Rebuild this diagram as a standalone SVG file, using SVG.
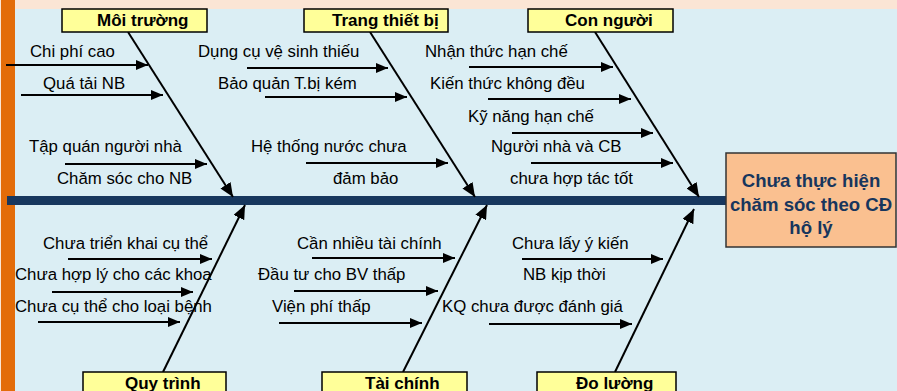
<svg xmlns="http://www.w3.org/2000/svg" width="897" height="391" viewBox="0 0 897 391">
  <defs>
    <marker id="head" markerUnits="userSpaceOnUse" markerWidth="14" markerHeight="12" refX="14" refY="6" orient="auto">
      <path d="M0,0 L14,6 L0,12 z" fill="#000"/>
    </marker>
    <marker id="headSmall" markerUnits="userSpaceOnUse" markerWidth="12" markerHeight="10" refX="12" refY="5" orient="auto">
      <path d="M0,0 L12,5 L0,10 z" fill="#000"/>
    </marker>
  </defs>
  <style>
    .cat rect { fill: #ffff99; stroke: #000; stroke-width: 1.5; }
    .cat text { font-family: "Liberation Sans", Arial, sans-serif; font-size: 17px; font-weight: bold; fill: #000; }
    .cause { font-family: "Liberation Sans", Arial, sans-serif; font-size: 16.8px; fill: #000; }
    .bone { stroke: #000; stroke-width: 2; marker-end: url(#head); }
    .sub { stroke: #000; stroke-width: 2; marker-end: url(#headSmall); }
    .effect text { font-family: "Liberation Sans", Arial, sans-serif; font-size: 18.6px; font-weight: bold; fill: #17365d; text-anchor: middle; }
  </style>

  <!-- backdrop -->
  <rect x="0" y="0" width="897" height="391" fill="#fbe5d5"/>
  <rect x="15" y="9" width="882" height="382" fill="#dbeef4"/>
  <rect x="1" y="0" width="14" height="391" fill="#e36c09"/>

  <!-- spine -->
  <rect id="spine" x="7" y="196" width="720" height="9" fill="#17375e"/>

  <!-- effect -->
  <g id="effect" class="effect">
    <rect x="726" y="153" width="170" height="94" fill="#fac090" stroke="#333" stroke-width="1.5"/>
    <text x="811" y="187">Chưa thực hiện</text>
    <text x="811" y="211">chăm sóc theo CĐ</text>
    <text x="811" y="234">hộ lý</text>
  </g>

  <!-- connectors: main bones and sub-cause arrows -->
  <g id="connectors">
    <line class="bone" x1="128" y1="32" x2="233" y2="197"/>
    <line class="bone" x1="370" y1="32" x2="475" y2="197"/>
    <line class="bone" x1="595" y1="32" x2="699" y2="197"/>
    <line class="bone" x1="163" y1="372" x2="245" y2="205"/>
    <line class="bone" x1="403" y1="372" x2="487" y2="205"/>
    <line class="bone" x1="615" y1="372" x2="694" y2="209"/>

    <line class="sub" x1="6" y1="65" x2="148" y2="65"/>
    <line class="sub" x1="21" y1="95" x2="163" y2="95"/>
    <line class="sub" x1="65" y1="164" x2="207" y2="164"/>

    <line class="sub" x1="247" y1="68" x2="388" y2="68"/>
    <line class="sub" x1="265" y1="97" x2="407" y2="97"/>
    <line class="sub" x1="306" y1="163" x2="448" y2="163"/>

    <line class="sub" x1="469" y1="67" x2="613" y2="67"/>
    <line class="sub" x1="488" y1="99" x2="631" y2="99"/>
    <line class="sub" x1="512" y1="133" x2="653" y2="133"/>
    <line class="sub" x1="531" y1="163" x2="673" y2="163"/>

    <line class="sub" x1="68" y1="259" x2="212" y2="259"/>
    <line class="sub" x1="52" y1="292" x2="193" y2="292"/>
    <line class="sub" x1="38" y1="322" x2="180" y2="322"/>

    <line class="sub" x1="312" y1="258" x2="455" y2="258"/>
    <line class="sub" x1="294" y1="291" x2="438" y2="291"/>
    <line class="sub" x1="279" y1="323" x2="422" y2="323"/>

    <line class="sub" x1="522" y1="259" x2="663" y2="259"/>
    <line class="sub" x1="489" y1="324" x2="632" y2="324"/>
  </g>

  <!-- category: Môi trường -->
  <g id="moi-truong">
    <g class="cat">
      <rect x="62" y="9" width="145" height="23"/>
      <text x="97" y="26">Môi trường</text>
    </g>
    <text class="cause" x="30" y="57">Chi phí cao</text>
    <text class="cause" x="43" y="89">Quá tải NB</text>
    <text class="cause" x="29" y="152">Tập quán người nhà</text>
    <text class="cause" x="57" y="184">Chăm sóc cho NB</text>
  </g>

  <!-- category: Trang thiết bị -->
  <g id="trang-thiet-bi">
    <g class="cat">
      <rect x="304" y="9" width="144" height="23"/>
      <text x="332" y="26">Trang thiết bị</text>
    </g>
    <text class="cause" x="198" y="57">Dụng cụ vệ sinh thiếu</text>
    <text class="cause" x="218" y="89">Bảo quản T.bị kém</text>
    <text class="cause" x="251" y="152">Hệ thống nước chưa</text>
    <text class="cause" x="333" y="184">đảm bảo</text>
  </g>

  <!-- category: Con người -->
  <g id="con-nguoi">
    <g class="cat">
      <rect x="528" y="9" width="145" height="23"/>
      <text x="565" y="26">Con người</text>
    </g>
    <text class="cause" x="425" y="57">Nhận thức hạn chế</text>
    <text class="cause" x="430" y="89">Kiến thức không đều</text>
    <text class="cause" x="468" y="122">Kỹ năng hạn chế</text>
    <text class="cause" x="491" y="152">Người nhà và CB</text>
    <text class="cause" x="510" y="184">chưa hợp tác tốt</text>
  </g>

  <!-- category: Quy trình -->
  <g id="quy-trinh">
    <g class="cat">
      <rect x="83" y="372" width="143" height="26"/>
      <text x="125" y="389">Quy trình</text>
    </g>
    <text class="cause" x="43" y="249">Chưa triển khai cụ thể</text>
    <text class="cause" x="15" y="280">Chưa hợp lý cho các khoa</text>
    <text class="cause" x="15" y="312">Chưa cụ thể cho loại bệnh</text>
  </g>

  <!-- category: Tài chính -->
  <g id="tai-chinh">
    <g class="cat">
      <rect x="322" y="372" width="145" height="26"/>
      <text x="365" y="389">Tài chính</text>
    </g>
    <text class="cause" x="297" y="249">Cần nhiều tài chính</text>
    <text class="cause" x="258" y="280">Đầu tư cho BV thấp</text>
    <text class="cause" x="272" y="312">Viện phí thấp</text>
  </g>

  <!-- category: Đo lường -->
  <g id="do-luong">
    <g class="cat">
      <rect x="537" y="372" width="139" height="26"/>
      <text x="576" y="389">Đo lường</text>
    </g>
    <text class="cause" x="512" y="249">Chưa lấy ý kiến</text>
    <text class="cause" x="523" y="280">NB kịp thời</text>
    <text class="cause" x="442" y="312">KQ chưa được đánh giá</text>
  </g>
</svg>
